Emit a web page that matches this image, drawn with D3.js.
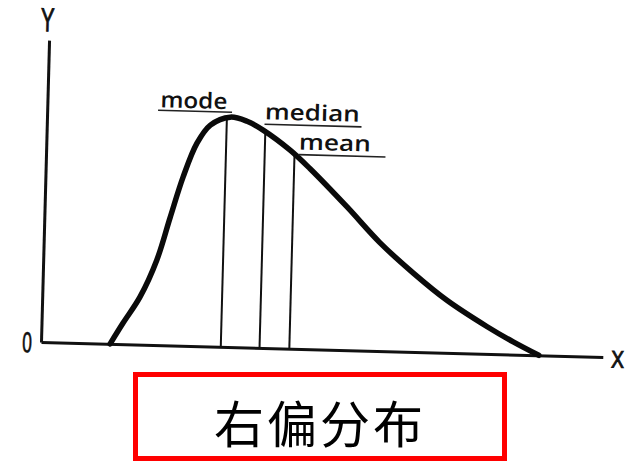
<!DOCTYPE html>
<html>
<head>
<meta charset="utf-8">
<script src="https://cdn.jsdelivr.net/npm/d3@7"></script>
<style>
  html, body { margin: 0; padding: 0; background: #fff; }
  svg { display: block; }
</style>
</head>
<body>
<svg id="chart" width="631" height="461"></svg>
<script>
// Right-skewed frequency curve (x along the axis, y = relative frequency)
const curveX = [12.3, 14.5, 17.4, 20.2, 22.4, 24.5, 26.8, 29.1, 32.6, 35.6, 38.5, 43.4, 47.0, 53.8, 59.8, 65.9, 72.0, 79.3, 84.0, 88.6];
const curveY = [0, 7.0, 15.8, 28.1, 42.5, 55.9, 67.2, 73.3, 76.1, 74.9, 72.1, 65.7, 59.8, 47.4, 35.9, 26.1, 17.4, 9.0, 4.2, 0];

// Central-tendency markers: position on x and height where each meets the curve
const markerNames = ["mode", "median", "mean"];
const markerX = [32.0, 38.9, 44.2];
const markerTop = [76.1, 72.4, 64.3];

// Axis labels
const xAxisLabel = "X";
const yAxisLabel = "Y";
const originLabel = "0";
const caption = "右偏分布";

const svg = d3.select("#chart");
svg.append("rect").attr("width", 631).attr("height", 461).attr("fill", "#fff");

// plotting frame, slightly tilted like a hand-drawn sketch
const frame = svg.append("g").attr("transform", "translate(41,342) rotate(1.53)");

const x = d3.scaleLinear().domain([0, 100]).range([0, 562]);
const y = d3.scaleLinear().domain([0, 100]).range([0, -302]);

// axes: plain lines without ticks
frame.append("g").call(d3.axisBottom(x).tickValues([]).tickSizeOuter(0));
frame.append("g").call(d3.axisLeft(y).tickValues([]).tickSizeOuter(0));
frame.selectAll(".domain").attr("stroke", "#111").attr("stroke-width", 3);

// axis labels
frame.append("text")
  .attr("transform", `translate(${x(100) + 15},${y(0) + 2}) scale(0.8,1)`)
  .attr("text-anchor", "middle")
  .attr("dominant-baseline", "central")
  .attr("font-family", "Liberation Sans, sans-serif")
  .attr("font-size", 24)
  .attr("fill", "#111")
  .attr("stroke", "#111").attr("stroke-width", 1)
  .text(xAxisLabel);

frame.append("text")
  .attr("transform", `translate(${x(0) - 2},${y(100) - 9}) scale(0.62,1)`)
  .attr("text-anchor", "middle")
  .attr("font-family", "Liberation Sans, sans-serif")
  .attr("font-size", 33)
  .attr("fill", "#111")
  .attr("stroke", "#111").attr("stroke-width", 1)
  .text(yAxisLabel);

frame.append("text")
  .attr("transform", `translate(${x(0) - 14},${y(0) + 1}) scale(0.62,1)`)
  .attr("text-anchor", "middle")
  .attr("dominant-baseline", "central")
  .attr("font-family", "DejaVu Sans, sans-serif")
  .attr("font-size", 27)
  .attr("fill", "#111")
  .attr("stroke", "#111").attr("stroke-width", 0.5)
  .text(originLabel);

// marker lines
const markers = markerNames.map((name, i) => ({ name, x: markerX[i], top: markerTop[i] }));

frame.selectAll("line.marker")
  .data(markers)
  .join("line")
  .attr("class", "marker")
  .attr("x1", d => x(d.x)).attr("x2", d => x(d.x))
  .attr("y1", y(0)).attr("y2", d => y(d.top))
  .attr("stroke", "#111")
  .attr("stroke-width", 2);

// the frequency curve
const pts = curveX.map((v, i) => [v, curveY[i]]);
const line = d3.line()
  .x(d => x(d[0]))
  .y(d => y(d[1]))
  .curve(d3.curveCatmullRom.alpha(0.5));

frame.append("path")
  .datum(pts)
  .attr("d", line)
  .attr("fill", "none")
  .attr("stroke", "#0a0a0a")
  .attr("stroke-width", 5.5)
  .attr("stroke-linecap", "round")
  .attr("stroke-linejoin", "round");

// marker labels with underlines
const labelLayout = {
  mode:   { dx: -67, dy: -8,  width: 67, ulFrom: -2, ulTo: 72, ulDy: 3 },
  median: { dx: -1,  dy: -10, width: 95, ulFrom: 0,  ulTo: 97, ulDy: 5 },
  mean:   { dx: 4,   dy: -5,  width: 72, ulFrom: 0,  ulTo: 87, ulDy: 5 }
};

const labels = frame.selectAll("g.mlabel")
  .data(markers)
  .join("g")
  .attr("class", "mlabel")
  .attr("transform", d => {
    const L = labelLayout[d.name];
    return `translate(${x(d.x) + L.dx},${y(d.top) + L.dy})`;
  });

labels.append("text")
  .attr("x", 0).attr("y", 0)
  .attr("font-family", "Open Sans, sans-serif")
  .attr("font-weight", 600)
  .attr("font-size", 22)
  .attr("fill", "#111")
  .attr("textLength", d => labelLayout[d.name].width)
  .attr("lengthAdjust", "spacingAndGlyphs")
  .text(d => d.name);

labels.append("line")
  .attr("x1", d => labelLayout[d.name].ulFrom)
  .attr("x2", d => labelLayout[d.name].ulTo)
  .attr("y1", d => labelLayout[d.name].ulDy)
  .attr("y2", d => labelLayout[d.name].ulDy)
  .attr("stroke", "#222")
  .attr("stroke-width", 1.6);

// caption box
svg.append("rect")
  .attr("x", 135.5).attr("y", 374.5)
  .attr("width", 369).attr("height", 84)
  .attr("fill", "none")
  .attr("stroke", "#ff0000")
  .attr("stroke-width", 5);

svg.append("text")
  .attr("x", 320).attr("y", 421)
  .attr("text-anchor", "middle")
  .attr("dominant-baseline", "central")
  .attr("font-family", "Noto Sans CJK SC, Noto Sans CJK TC, sans-serif")
  .attr("font-size", 50)
  .attr("letter-spacing", 3)
  .attr("fill", "#000")
  .text(caption);
</script>
</body>
</html>
